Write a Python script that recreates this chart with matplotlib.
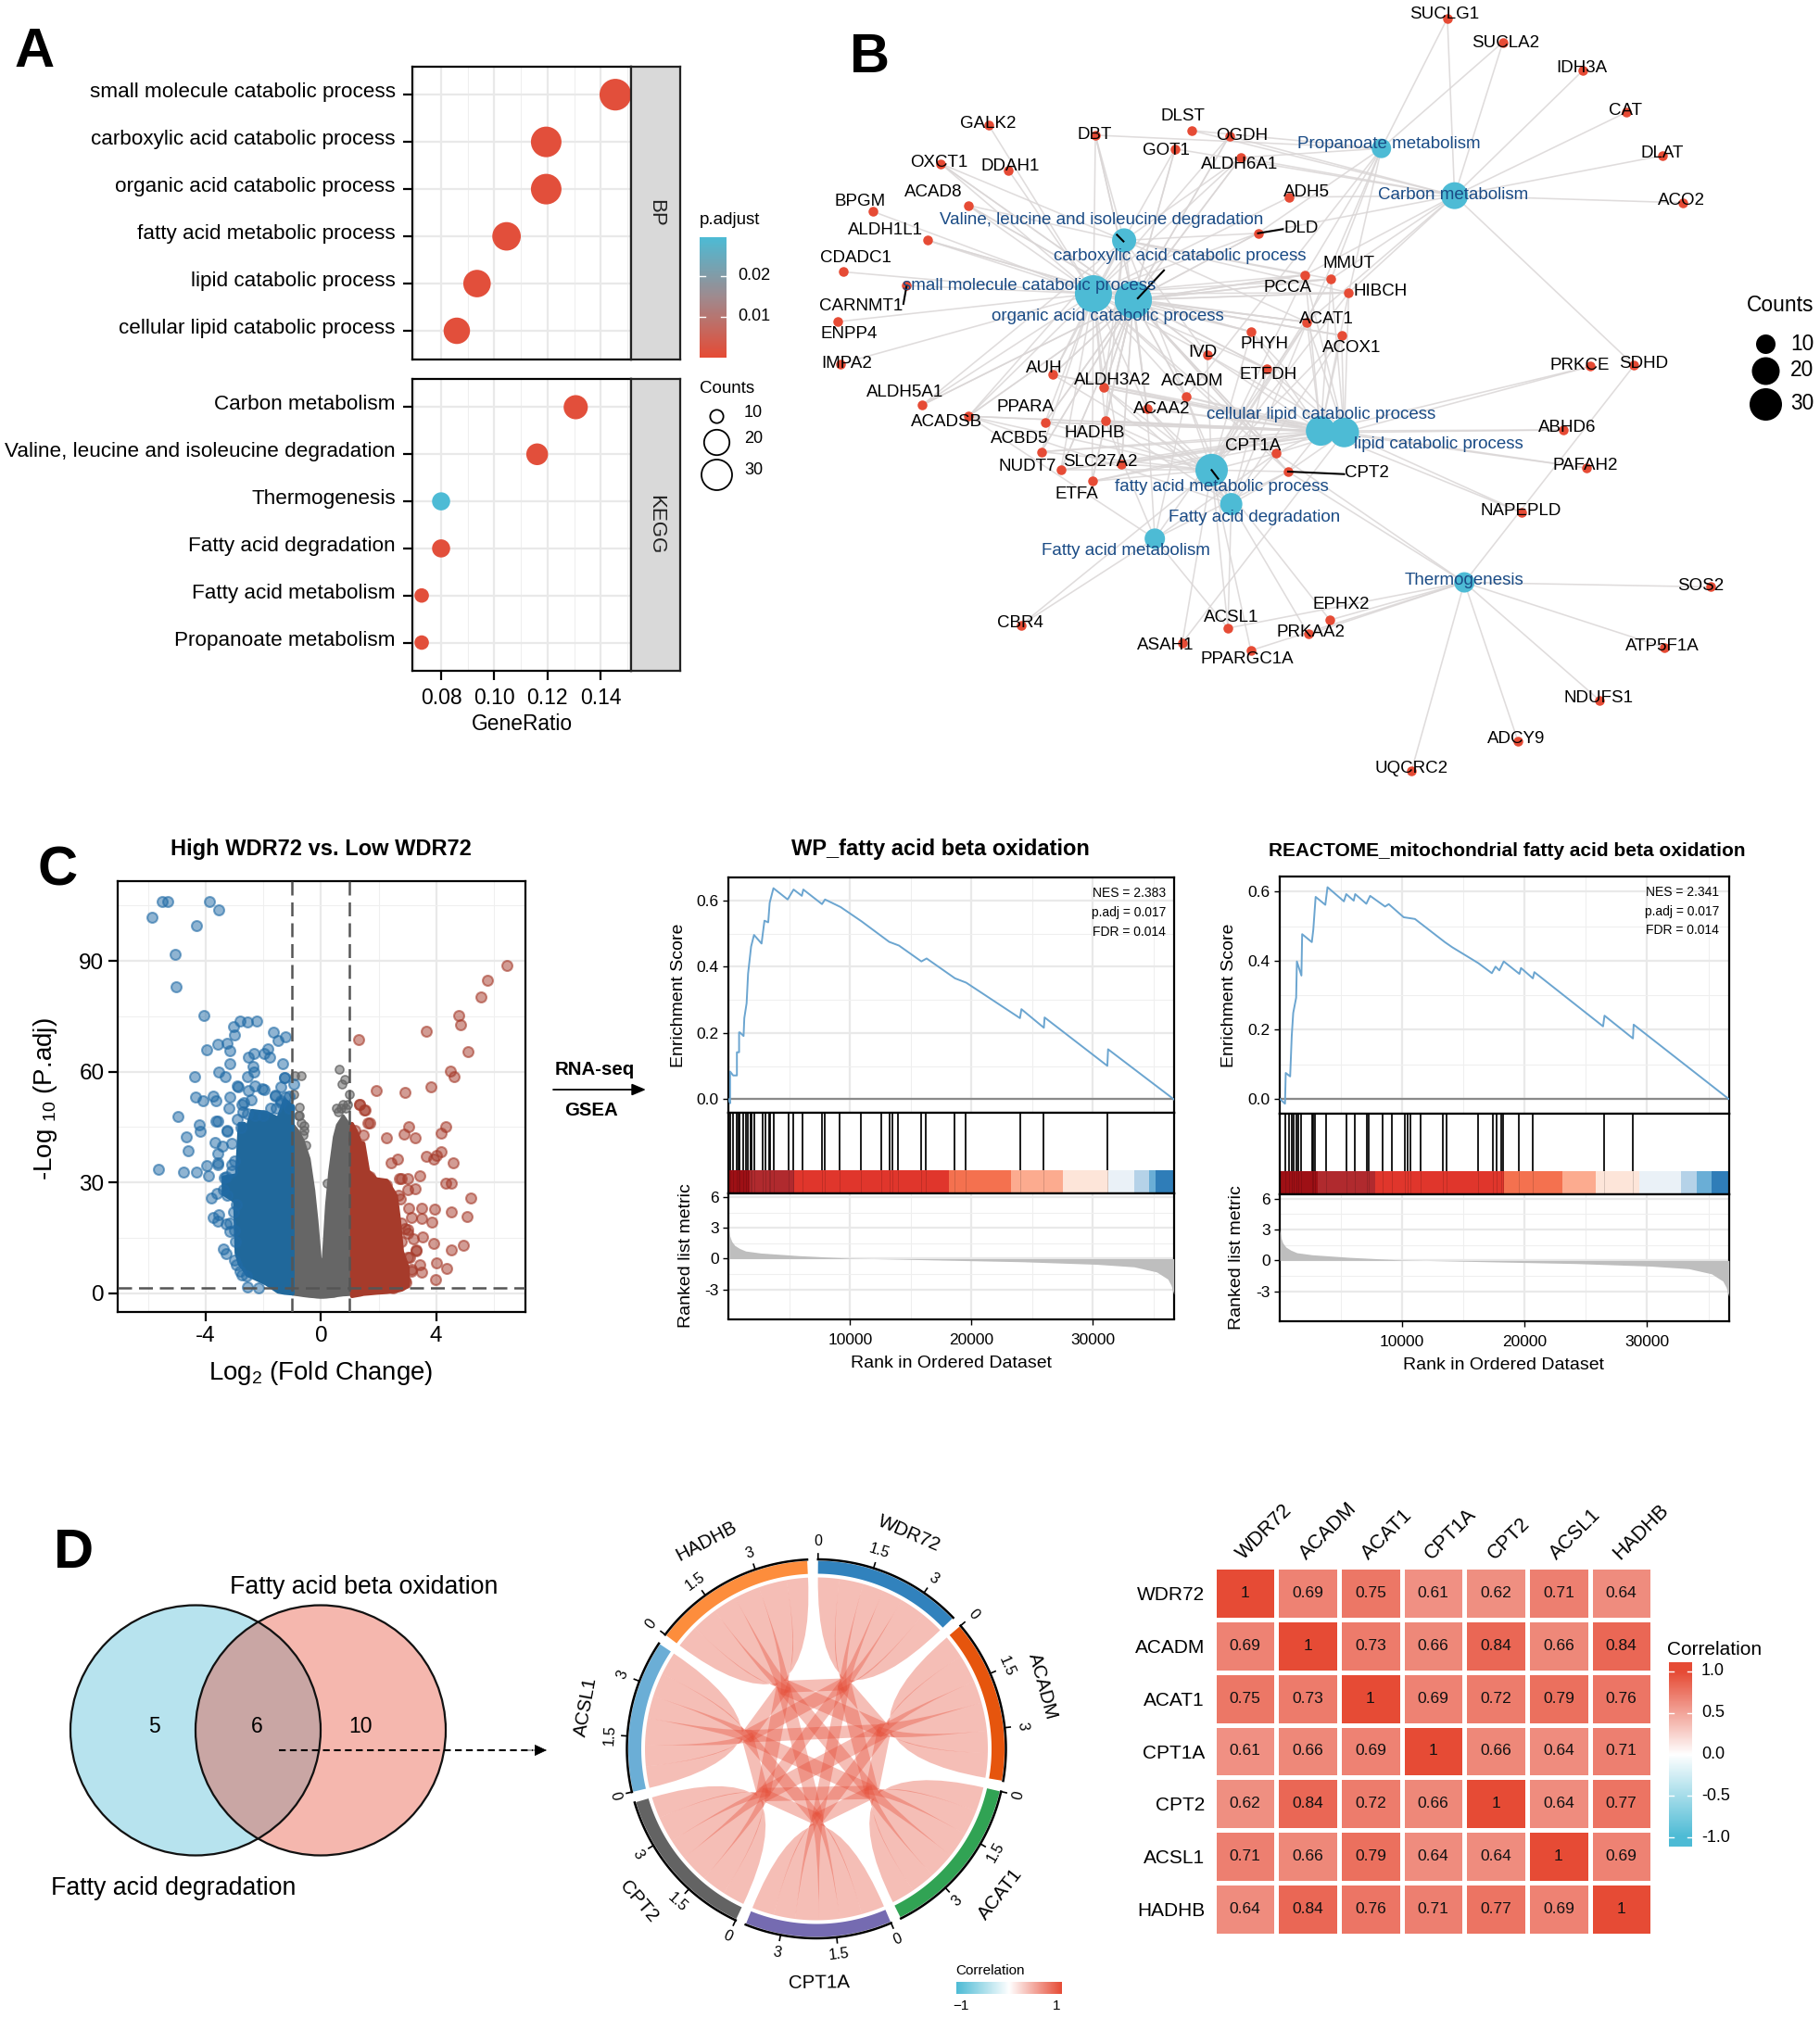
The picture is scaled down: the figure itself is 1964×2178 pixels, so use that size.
import numpy as np
import matplotlib
matplotlib.use("Agg")
import matplotlib.pyplot as plt
from matplotlib.colors import LinearSegmentedColormap, Normalize
from matplotlib.path import Path
from matplotlib.patches import PathPatch, Circle, Rectangle
from matplotlib.transforms import ScaledTranslation

plt.rcParams['font.family'] = ['Liberation Sans', 'DejaVu Sans']
plt.rcParams['mathtext.fontset'] = 'custom'
plt.rcParams['mathtext.rm'] = 'Liberation Sans'
plt.rcParams['mathtext.default'] = 'regular'
plt.rcParams['axes.unicode_minus'] = False

W, H = 1965, 2178
RED, BLUE = '#E64B35', '#4DBBD5'

# ---------- Panel A data ----------
bp_terms = ['small molecule catabolic process', 'carboxylic acid catabolic process', 'organic acid catabolic process',
            'fatty acid metabolic process', 'lipid catabolic process', 'cellular lipid catabolic process']
bp_ratio = [0.1455, 0.1195, 0.1195, 0.1046, 0.0935, 0.0859]
bp_count = [32, 30, 30, 26, 24, 22]
bp_padj = [0.001, 0.001, 0.001, 0.001, 0.001, 0.001]
kegg_terms = ['Carbon metabolism', 'Valine, leucine and isoleucine degradation', 'Thermogenesis',
              'Fatty acid degradation', 'Fatty acid metabolism', 'Propanoate metabolism']
kegg_ratio = [0.1306, 0.1161, 0.0800, 0.0800, 0.0727, 0.0727]
kegg_count = [19, 17, 14, 14, 11, 11]
kegg_padj = [0.001, 0.001, 0.0297, 0.001, 0.001, 0.001]
legend_counts = [10, 20, 30]

# ---------- Panel B data (layout coordinates) ----------
gene_names = ['SUCLG1','SUCLA2','IDH3A','CAT','DLAT','ACO2','GALK2','DLST','DBT','OGDH','GOT1','ALDH6A1','OXCT1','DDAH1',
    'ACAD8','ADH5','BPGM','ALDH1L1','DLD','CDADC1','PCCA','MMUT','HIBCH','CARNMT1','ENPP4','ACAT1','PHYH','ACOX1','IMPA2',
    'IVD','ETFDH','AUH','ALDH3A2','ACADM','ALDH5A1','ACAA2','PPARA','ACADSB','HADHB','ACBD5','CPT1A','SLC27A2','NUDT7',
    'CPT2','ETFA','PRKCE','SDHD','ABHD6','PAFAH2','NAPEPLD','SOS2','ATP5F1A','NDUFS1','ADCY9','UQCRC2','CBR4','ASAH1',
    'ACSL1','PPARGC1A','PRKAA2','EPHX2']
gene_x = [996,1081,1204,1270,1326,1356,294,605,457,662,579,680,220,324,262,754,116,200,706,71,778,818,845,168,62,781,696,834,66,
    628,720,392,470,596,192,536,380,263,472,374,734,497,404,752,452,1215,1282,1173,1209,1110,1399,1328,1229,1104,941,343,590,
    660,695,783,816]
gene_y = [36,83,138,221,306,399,247,257,266,268,293,310,322,335,404,388,416,473,459,535,541,549,576,562,633,634,653,660,716,
    698,726,737,763,781,797,804,831,819,828,889,892,913,925,928,947,721,719,846,921,1009,1155,1274,1378,1458,1517,1230,1265,
    1236,1280,1248,1220]
gene_lx = [991,1085,1202,1268,1325,1355,292,591,456,681,566,677,217,327,209,781,97,135,772,90,751,845,893,98,80,811,716,850,76,
    622,722,379,483,606,165,558,350,229,456,341,698,464,353,872,428,1198,1296,1180,1207,1108,1384,1325,1228,1102,941,342,564,
    665,690,787,834]
gene_ly = [26,81,131,214,298,391,241,225,262,264,294,320,317,324,375,376,393,450,446,504,563,516,571,600,655,626,675,681,712,
    691,734,722,746,748,770,802,798,827,849,860,875,905,915,928,969,717,712,838,914,1002,1150,1268,1371,1451,1509,1223,1267,
    1213,1295,1241,1187]

term_names = ['Propanoate metabolism','Carbon metabolism','Valine, leucine and isoleucine degradation',
    'carboxylic acid catabolic process','small molecule catabolic process','organic acid catabolic process',
    'cellular lipid catabolic process','lipid catabolic process','fatty acid metabolic process','Fatty acid degradation',
    'Fatty acid metabolism','Thermogenesis']
term_x = [895,1007,501,515,454,515,802,838,635,665,548,1022]
term_y = [292,385,473,590,578,590,848,851,925,992,1060,1146]
term_lx = [906,1005,467,587,355,476,802,982,650,700,504,1022]
term_ly = [281,381,430,501,559,619,812,871,955,1015,1081,1139]
term_d = [21,29,26,40,40,40,32,32,35,24,22,22]

catabolic = ['OXCT1','ACAD8','ALDH1L1','DBT','GOT1','ALDH6A1','DLD','PCCA','MMUT','HIBCH','ACAT1','ACOX1','PHYH','IVD','ETFDH',
    'AUH','ALDH3A2','ACADM','ALDH5A1','ACAA2','PPARA','ACADSB','HADHB','ACBD5','CPT1A','SLC27A2','NUDT7','CPT2','ETFA','OGDH']
lipid = ['ACAT1','ACOX1','PHYH','ETFDH','ALDH3A2','ACADM','ACAA2','PPARA','ACADSB','HADHB','ACBD5','CPT1A','CPT2','SLC27A2',
    'NUDT7','ETFA','AUH','MMUT','PCCA','HIBCH','IVD']
term_genes = {
 'Propanoate metabolism': ['SUCLG1','SUCLA2','DBT','DLST','ALDH6A1','DLD','ACAT1','ACADM','MMUT','PCCA','HIBCH'],
 'Carbon metabolism': ['SUCLG1','SUCLA2','IDH3A','CAT','DLAT','ACO2','SDHD','DLD','OGDH','DLST','GOT1','ALDH6A1','ADH5','MMUT','PCCA','ACAT1','HIBCH'],
 'Valine, leucine and isoleucine degradation': ['DBT','DLD','ALDH6A1','MMUT','PCCA','HIBCH','ACAT1','IVD','ACADM','ACADSB','AUH','ACAA2','HADHB','ACAD8','OXCT1','ALDH3A2','ALDH5A1'],
 'carboxylic acid catabolic process': catabolic,
 'small molecule catabolic process': catabolic + ['GALK2','DDAH1','BPGM','CDADC1','CARNMT1','ENPP4','IMPA2','ADH5'],
 'organic acid catabolic process': catabolic,
 'cellular lipid catabolic process': lipid + ['PRKCE','ABHD6','PAFAH2','NAPEPLD'],
 'lipid catabolic process': lipid + ['PRKCE','ABHD6','PAFAH2','NAPEPLD','ASAH1'],
 'fatty acid metabolic process': lipid + ['EPHX2','ACSL1','PRKAA2','CBR4','ASAH1','PPARGC1A'],
 'Fatty acid degradation': ['ACADM','ACAA2','ALDH3A2','HADHB','CPT1A','CPT2','ACSL1','ACADSB','ACAT1','ETFDH','ACOX1'],
 'Fatty acid metabolism': ['CBR4','ACSL1','ACADM','ACAA2','HADHB','CPT1A','CPT2','ACAT1','ACADSB'],
 'Thermogenesis': ['SOS2','ATP5F1A','NDUFS1','ADCY9','UQCRC2','SDHD','PRKAA2','ACSL1','PPARGC1A','CPT1A','CPT2','EPHX2'],
}
label_links = [((706,459),(744,451)), ((752,928),(838,933)), ((168,562),(163,598)), ((562,532),(522,587)),
               ((635,925),(645,942)), ((490,462),(500,475))]

# ---------- Panel C volcano data ----------
blue_x = [-5.88,-5.53,-5.31,-3.86,-3.54,-4.33,-5.06,-5.02,-4.07,-3.04,-2.81,-2.55,-2.24,-2.99,-1.64,-1.25,-1.5,-3.57,-3.25,-3.97,
    -3.18,-2.53,-2.32,-1.96,-1.84,-1.77,-3.15,-1.32,-2.36,-3.55,-4.39,-3.32,-2.56,-2.32,-1.27,-2.92,-2.29,-4.36,-4.09,-3.76,
    -3.64,-3.17,-2.53,-1.96,-1.38,-1.6,-3.21,-2.75,-4.98,-3.58,-4.22,-4.19,-3.27,-4.68,-3.68,-4.62,-3.58,-5.64,-4.79,-4.32,
    -3.97,-3.9,-3.58,-3.35,-3.8,-3.61,-3.73,-3.54,-3.58,-3.28,-3.18,-3.4,-3.31,-2.95,-2.6,-2.55,-2.17,
    -3.16,-2.95,-3.59,-3.43,-3.1,-3.27,-3.65,-3,-3.1,-3.3,-3.38,-3.27,-3.1,-2.78,-2.68,-2.89,-2.41,-2.03,-1.6,-1.28,-1.39,-1.12,-0.96,
    -2.9,-2.7,-2.55,-2.3,-2,-1.75,-1.55,-1.4,-1.25,-1.1,-3.05,-3.02,-2.98,-3.0,-2.8,-2.75]
blue_y = [101.7,106.1,106.1,106.1,103.9,99.5,91.8,83.1,75.1,72.3,73.6,73.4,73.8,69.9,70.8,69.5,68.4,67.5,67.7,66,
    65.6,64,64.9,64.9,66.3,63.9,62.2,62.2,61.3,59.8,58.6,58.6,58.6,59.8,58.3,56.2,56.2,53,52.1,53.4,
    52.1,53.1,54.8,55.2,55.9,53.6,50,51,47.9,46.6,45.7,43.9,43.9,42.4,40.8,38.5,37.7,33.5,32.9,32.9,
    34.5,31.9,35.2,31.4,25.8,27,20.6,21.3,19.6,18.8,16.7,11.9,10.6,7.7,4.7,1.6,1.3,
    18.9,24,34.8,39.9,40.7,44,46.6,35.7,34.8,31.5,28,26.5,33,44.9,51.6,55.8,52.4,55.4,53.3,58.3,51.6,53.3,56.6,
    47,49,48.5,48,48,50,50,52,53,50,22,17,14,9,6,5]
red_x = [6.45,5.78,5.55,4.78,4.86,3.65,1.32,5.12,4.5,4.62,3.83,1.91,2.92,1.35,1.5,1.64,3.04,4.33,2.89,4.16,3.27,2.26,3.65,4.16,4.01,
    3.91,4.6,2.65,2.43,3.44,2.72,3,4.33,4.52,3.27,3,5.21,2.75,3.04,3.51,3.94,4.52,5.06,3.15,3.48,3.86,2.91,3,3.54,3.19,3.91,
    4.94,4.52,3.29,3.08,4,4.37,3.42,3.51,3.15,3.97,2.5,2.96,
    1.35,1.52,1.68,1.19,1.46,1.25,1.14,1.68,2.27,2.8,2.7,2.38,2.8,3.02,2.8,3.02,3.29,3.13,2.91,2.7]
red_y = [88.7,84.7,80.2,75.1,72.8,71,68.8,65.5,60.1,58.6,56,55,54.5,51,49.5,46.2,45.2,45.2,43.2,43.3,42.2,42.1,37.1,38.2,37.4,
    36.3,35.4,36.2,35.4,31.9,31,31,29.8,29.7,28.3,28,25.8,25.4,22.9,22.9,22.7,22,20.8,20.6,20.3,19.2,17.4,16.2,15.2,14.7,13.4,
    13,11.6,11.6,9.7,8.1,6.8,7.7,5.6,5.9,3.6,1.5,2.9,
    51.2,49.5,46.1,44,42.8,39,41.5,31.5,29.4,31,26.5,24,19,17.3,13.9,9.7,11.4,6.4,3.4,4.7]
grey_x = [-0.9,-0.69,-0.96,-0.74,-0.74,-0.58,-0.63,0.98,0.62,0.82,0.73,0.53,0.76,0.92,0.2,-0.8,-0.7,0.6,0.7,0.85,-0.6,-0.52]
grey_y = [59,59,54,50.3,48.2,45.3,42.8,54,60.6,57.9,56.6,50,51.2,51.2,29.8,48,46,49,50,50,44,40]

blue_env_x = [-3.4,-3.0,-2.95,-2.84,-2.68,-2.57,-2.41,-1.92,-1.5,-1.28,-1.0]
blue_env_hi = [31.5,32,30,46,46,45,49.5,49,47.4,52.4,50.8]
blue_env_lo = [27,25,11,8,6.4,5,4.5,2.7,0.5,0.2,0]
grey_env_x = [-1,-0.8,-0.63,-0.42,-0.26,-0.15,-0.04,0,0.06,0.17,0.28,0.44,0.55,0.76,0.98,1.06]
grey_env_hi = [46,44,41.5,36.5,28,19.8,9.7,8,9.7,24,33,42.4,45.7,48.2,45.7,44]
grey_env_lo = [-0.2,-0.4,-0.6,-0.8,-0.9,-1,-1.05,-1.05,-1.05,-1,-0.9,-0.8,-0.6,-0.4,-0.3,-0.2]
red_env_x = [1.06,1.2,1.35,1.46,1.62,1.9,2.27,2.59,2.7,2.8,3.0]
red_env_hi = [46,44,41,40.7,33.2,31,30.6,26.5,19.8,11.4,7]
red_env_lo = [-0.7,-0.5,-0.3,-0.1,0,0.2,0.4,0.7,0.9,1.1,2.0]

# ---------- Panel C GSEA data ----------
es1_rank = [0,120,120,370,680,680,860,860,920,1230,1290,1480,1600,1850,2090,2710,2710,2950,3260,3380,3690,4860,4860,5350,6030,6030,
    6150,7690,7690,7940,9230,10950,13230,14030,15880,15880,16310,18650,19570,19570,24000,24000,24120,25970,25970,26030,31200,31200,31260,36680]
es1_val = [0,-0.012,0.084,0.072,0.072,0.142,0.142,0.202,0.202,0.191,0.245,0.29,0.379,0.461,0.496,0.47,0.47,0.539,0.534,0.593,0.637,0.603,0.603,0.633,0.614,0.614,
    0.633,0.589,0.589,0.603,0.58,0.537,0.475,0.464,0.416,0.416,0.425,0.365,0.352,0.352,0.245,0.245,0.272,0.216,0.216,0.247,0.101,0.101,0.151,0]
es2_rank = [0,430,490,850,980,1100,1340,1400,1770,1830,2620,2740,2930,3720,3900,5240,5430,6040,6160,7070,7380,8600,8900,10120,11040,13480,14090,
    16220,17320,17620,17930,18290,19570,19700,20670,20790,26400,26520,28840,28900,36650]
es2_val = [0,-0.014,0.075,0.065,0.183,0.249,0.293,0.398,0.357,0.477,0.454,0.49,0.585,0.562,0.613,0.572,0.593,0.574,0.593,0.565,0.588,0.557,0.564,0.526,0.521,0.454,0.439,
    0.393,0.364,0.383,0.372,0.398,0.362,0.379,0.349,0.367,0.21,0.241,0.175,0.215,0]
hits1 = [120,370,680,800,920,1230,1420,1600,1780,1910,2090,2770,3020,3320,3450,3690,4920,5350,6090,7690,7940,9110,10890,12550,13290,13480,13970,15880,16250,18580,19510,24000,25970,31200]
hits2 = [430,790,980,1160,1340,1520,1770,2620,2740,2870,3780,5430,6100,7130,7260,8410,9150,10240,10430,10670,11520,13350,13600,16220,17380,17680,18050,18230,19510,20670,26460,28840]
metric_rank = [0,100,250,500,900,1400,2650,5700,10000,11900,18000,24200,30300,33400,35260,36180,36450,36680]
metric_val = [3.0,2.2,1.7,1.3,1.0,0.75,0.55,0.3,0.04,0.0,-0.15,-0.3,-0.55,-0.8,-1.3,-2.0,-2.6,-3.5]
strip1_edges = [0,1720,5415,18150,23260,27570,31260,33400,34650,35140,36680]
strip2_edges = [0,3100,7800,18350,23050,25790,29330,32800,34020,35300,36650]
strip_colors = ['#9E1015','#B02A2E','#E0362C','#F4714F','#FCAB8F','#FDE5D9','#EAF1F7','#B5D2E8','#6AAED6','#2F7DB8']

# ---------- Panel D data ----------
genes = ['WDR72','ACADM','ACAT1','CPT1A','CPT2','ACSL1','HADHB']
corr = np.array([[1,.69,.75,.61,.62,.71,.64],
                 [.69,1,.73,.66,.84,.66,.84],
                 [.75,.73,1,.69,.72,.79,.76],
                 [.61,.66,.69,1,.66,.64,.71],
                 [.62,.84,.72,.66,1,.64,.77],
                 [.71,.66,.79,.64,.64,1,.69],
                 [.64,.84,.76,.71,.77,.69,1]])
ring_colors = ['#3182BD','#E6550D','#31A354','#756BB1','#636363','#6BAED6','#FD8D3C']
venn_counts = ['5', '6', '10']

# ---------- helpers ----------
fig = plt.figure(figsize=(W/100, H/100), dpi=100, facecolor='white')
def pax(x0, y0, x1, y1, **kw):
    return fig.add_axes([x0/W, 1-y1/H, (x1-x0)/W, (y1-y0)/H], **kw)
def pts(px):
    return px*0.72

ov = pax(0, 0, W, H)
ov.set_xlim(0, W); ov.set_ylim(H, 0); ov.axis('off'); ov.set_zorder(20); ov.patch.set_alpha(0)
def T(x, y, s, size, **kw):
    kw.setdefault('ha', 'center'); kw.setdefault('va', 'center')
    return ov.text(x, y+2, s, fontsize=size, **kw)

for (x, y, s) in [(37, 54, 'A'), (939, 60, 'B'), (62, 938, 'C'), (80, 1674, 'D')]:
    T(x, y, s, 43, fontweight='bold')

GMAJ, GMIN = '#E9E9E9', '#EFEFEF'
def style_grid(ax, xmaj=True):
    ax.set_axisbelow(True)
    ax.grid(True, which='major', color=GMAJ, lw=1.6)
    ax.grid(True, which='minor', color=GMIN, lw=0.8)
    ax.tick_params(which='minor', length=0)
    for s in ax.spines.values():
        s.set_linewidth(1.6)

# ---------- Panel A ----------
pad_norm = Normalize(0, 0.0297)
pad_cmap = LinearSegmentedColormap.from_list('pad', [RED, '#A08A8E', BLUE])
def count_d(c):
    return np.interp(c, [10, 20, 30, 35], [14.3, 27.4, 33, 36])
for (y0, y1, terms, ratio, count, padj, strip, xl) in [
        (71.6, 387.6, bp_terms, bp_ratio, bp_count, bp_padj, 'BP', False),
        (409, 724, kegg_terms, kegg_ratio, kegg_count, kegg_padj, 'KEGG', True)]:
    ax = pax(445, y0, 681, y1)
    ax.set_xlim(0.0692, 0.1514); ax.set_ylim(5.6, -0.6)
    ax.set_xticks([0.08, 0.10, 0.12, 0.14])
    ax.set_xticks([0.07, 0.09, 0.11, 0.13, 0.15], minor=True)
    ax.set_yticks(range(6)); ax.set_yticklabels(terms, fontsize=16.2)
    style_grid(ax)
    ax.tick_params(axis='y', which='major', length=7, width=1.6, pad=6)
    ax.tick_params(axis='x', which='major', length=7 if xl else 0, width=1.6, labelsize=16.5, pad=6, labelbottom=xl)
    up = ScaledTranslation(0, 5/100, fig.dpi_scale_trans)
    for lab in ax.get_yticklabels():
        lab.set_transform(lab.get_transform() + up)
    ax.scatter(ratio, range(6), s=pts(count_d(np.array(count)))**2, c=pad_cmap(pad_norm(padj)), linewidths=0, zorder=3, clip_on=False)
    st = pax(681, y0, 734, y1)
    st.set_facecolor('#D9D9D9'); st.set_xticks([]); st.set_yticks([])
    for s in st.spines.values():
        s.set_linewidth(1.6); s.set_color('#222222')
    st.text(0.5, 0.5, strip, rotation=-90, fontsize=16, ha='center', va='center', transform=st.transAxes, color='#222222')
    if xl:
        T(563, 780, 'GeneRatio', 16.4)

cb = pax(755, 256, 784, 386)
cb.imshow(np.linspace(0.0297, 0, 256)[:, None], aspect='auto', cmap=pad_cmap, norm=pad_norm, extent=[0, 1, 0, 0.0297])
cb.axis('off')
for v in [0.01, 0.02]:
    cb.plot([0, 0.2], [v, v], color='white', lw=1); cb.plot([0.8, 1], [v, v], color='white', lw=1)
cb.set_xlim(0, 1); cb.set_ylim(0, 0.0297)
T(755, 236, 'p.adjust', 13.5, ha='left')
T(796.5, 296, '0.02', 13, ha='left'); T(796.5, 340, '0.01', 13, ha='left')
T(755, 417, 'Counts', 13.5, ha='left')
for c, y in zip(legend_counts, [449, 477, 511.5]):
    ov.scatter([773.5], [y], s=pts(count_d(c))**2, facecolors='white', edgecolors='black', linewidths=1.3, zorder=3)
    T(803, y-6, str(c), 13, ha='left')

# ---------- Panel B ----------
nb = pax(860, 0, W, 860)
nb.set_xlim(0, 1568); nb.set_ylim(1568, 0); nb.axis('off')
gx = dict(zip(gene_names, gene_x)); gy = dict(zip(gene_names, gene_y))
for tn, tx, ty in zip(term_names, term_x, term_y):
    for g in term_genes[tn]:
        if g in gx:
            nb.plot([tx, gx[g]], [ty, gy[g]], color='#DAD6D6', lw=1.15, alpha=0.85, zorder=1, solid_capstyle='round')
nb.scatter(gene_x, gene_y, s=pts(10.5)**2, color=RED, linewidths=0, zorder=3)
nb.scatter(term_x, term_y, s=pts(np.array(term_d))**2, color=BLUE, linewidths=0, zorder=3)
for (a, b) in label_links:
    nb.plot([a[0], b[0]], [a[1], b[1]], color='black', lw=1.5, zorder=4)
for n_, x, y in zip(gene_names, gene_lx, gene_ly):
    nb.text(x, y+3, n_, fontsize=13.5, ha='center', va='center', zorder=5, color='black')
for n_, x, y in zip(term_names, term_lx, term_ly):
    nb.text(x, y+3, n_, fontsize=13.5, ha='center', va='center', zorder=5, color='#1A4B85')
T(1921, 327, 'Counts', 16.4)
for c, y, d in zip(legend_counts, [371, 400, 436], [21, 30, 35]):
    ov.scatter([1905], [y], s=pts(d)**2, color='black', linewidths=0)
    T(1932, y-2, str(c), 16.4, ha='left')

# ---------- Panel C volcano ----------
ax = pax(127, 951.4, 567, 1416)
ax.set_xlim(-7.06, 7.1); ax.set_ylim(-5.1, 111.5)
ax.set_xticks([-4, 0, 4]); ax.set_xticks([-6, -2, 2, 6], minor=True)
ax.set_yticks([0, 30, 60, 90]); ax.set_yticks([15, 45, 75, 105], minor=True)
style_grid(ax)
ax.tick_params(which='major', length=7, width=1.6, labelsize=17.5)
ax.fill_between(grey_env_x, grey_env_lo, grey_env_hi, color='#666666', lw=2, zorder=2)
ax.fill_between(blue_env_x, blue_env_lo, blue_env_hi, color='#20689B', lw=3, zorder=2.2)
ax.fill_between(red_env_x, red_env_lo, red_env_hi, color='#A63B2B', lw=3, zorder=2.2)
ax.scatter(grey_x, grey_y, s=42, facecolor=(0.4, 0.4, 0.4, 0.55), edgecolor=(0.4, 0.4, 0.4, 0.8), lw=1.2, zorder=2.1)
ax.scatter(blue_x, blue_y, s=62, facecolor=(0.13, 0.42, 0.65, 0.5), edgecolor=(0.13, 0.42, 0.65, 0.6), lw=1.5, zorder=2.3)
ax.scatter(red_x, red_y, s=62, facecolor=(0.65, 0.23, 0.17, 0.5), edgecolor=(0.65, 0.23, 0.17, 0.6), lw=1.5, zorder=2.3)
dash = (0, (6, 3))
for xv in [-1, 1]:
    ax.axvline(xv, color='#555555', lw=1.8, ls=dash, zorder=3)
ax.axhline(1.3, color='#555555', lw=1.8, ls=dash, zorder=3)
T(346.4, 915, 'High WDR72 vs. Low WDR72', 17, fontweight='bold')
T(346, 1480, r'Log$_{2}$ (Fold Change)', 19.9)
T(49, 1184, r'-Log $_{10}$ (P.adj)', 20, rotation=90)
ov.annotate('', xy=(697, 1176), xytext=(597, 1176), arrowprops=dict(arrowstyle='-|>,head_length=0.9,head_width=0.38', color='black', lw=1.3, shrinkA=0, shrinkB=0))
T(642, 1152, 'RNA-seq', 14.7, fontweight='bold')
T(638, 1196, 'GSEA', 14.7, fontweight='bold')

# ---------- Panel C GSEA ----------
def gsea(x0, x1, y0, y1, y2, y3, xmax, es_r, es_v, hits, edges, top_lim, bot_lim):
    a = pax(x0, y0, x1, y1)
    a.set_xlim(0, xmax); a.set_ylim(*top_lim)
    a.set_xticks([10000, 20000, 30000]); a.set_xticks([5000, 15000, 25000, 35000], minor=True)
    a.set_yticks([0, 0.2, 0.4, 0.6]); a.set_yticks([0.1, 0.3, 0.5], minor=True)
    style_grid(a)
    a.tick_params(axis='x', which='major', length=0, labelbottom=False)
    a.tick_params(axis='y', which='major', length=4, width=1, labelsize=12.5)
    a.axhline(0, color='#8A8A8A', lw=1.6, zorder=2)
    a.plot(es_r, es_v, color='#6BA5D0', lw=1.4, zorder=3)
    m = pax(x0, y1, x1, y2)
    m.set_xlim(0, xmax); m.set_ylim(0, 1); m.set_xticks([]); m.set_yticks([])
    for s in m.spines.values():
        s.set_linewidth(1.6)
    for k in range(len(edges)-1):
        m.add_patch(Rectangle((edges[k], 0), edges[k+1]-edges[k], 0.29, color=strip_colors[k], lw=0, zorder=1))
    m.vlines(hits, 0.29, 1, color='black', lw=1.25, zorder=2)
    m.vlines(hits, 0, 0.29, color='black', lw=0.4, alpha=0.25, zorder=2)
    b = pax(x0, y2, x1, y3)
    b.set_xlim(0, xmax); b.set_ylim(*bot_lim)
    b.set_xticks([10000, 20000, 30000]); b.set_xticks([5000, 15000, 25000, 35000], minor=True)
    b.set_yticks([-3, 0, 3, 6]); b.set_yticks([-1.5, 1.5, 4.5], minor=True)
    style_grid(b)
    b.tick_params(which='major', length=4, width=1, labelsize=12.5)
    b.tick_params(axis='x', which='major', pad=7)
    b.fill_between(metric_rank, 0, metric_val, color='#BEBEBE', lw=0, zorder=3)

gsea(786.3, 1267, 947, 1201, 1287.7, 1423.5, 36700, es1_rank, es1_val, hits1, strip1_edges, (-0.0406, 0.6695), (-5.9, 6.42))
gsea(1381, 1866, 946, 1202, 1289, 1426, 36700, es2_rank, es2_val, hits2, strip2_edges, (-0.043, 0.644), (-5.9, 6.42))

T(1015, 915, 'WP_fatty acid beta oxidation', 17, fontweight='bold')
T(1626, 917, 'REACTOME_mitochondrial fatty acid beta oxidation', 15, fontweight='bold')
for x, y, s in zip([1258]*3, [962, 983, 1003.6], ['NES = 2.383', 'p.adj = 0.017', 'FDR = 0.014']):
    T(x, y, s, 10, ha='right')
for x, y, s in zip([1855]*3, [961, 982, 1002.5], ['NES = 2.341', 'p.adj = 0.017', 'FDR = 0.014']):
    T(x, y, s, 10, ha='right')
T(733, 1072, 'Enrichment Score', 14, rotation=90); T(1327, 1072, 'Enrichment Score', 14, rotation=90)
T(741, 1353, 'Ranked list metric', 14, rotation=90); T(1335, 1355, 'Ranked list metric', 14, rotation=90)
T(1027, 1469.5, 'Rank in Ordered Dataset', 14); T(1623, 1472, 'Rank in Ordered Dataset', 14)

# ---------- Panel D Venn ----------
vn = pax(40, 1630, 620, 2070)
vn.set_xlim(40, 620); vn.set_ylim(2070, 1630); vn.axis('off')
for cx, col in [(211, BLUE), (346, RED)]:
    vn.add_patch(Circle((cx, 1867.5), 135, facecolor=col, alpha=0.4, lw=0, zorder=1))
for cx in [211, 346]:
    vn.add_patch(Circle((cx, 1867.5), 135, fill=False, edgecolor='#111111', lw=1.6, zorder=2))
for x, s in zip([166.5, 277.5, 389], venn_counts):
    T(x, 1861, s, 16.5)
T(393, 1711, 'Fatty acid beta oxidation', 19.3)
T(187, 2036, 'Fatty acid degradation', 19.3)
ov.plot([301, 575], [1889, 1889], color='black', lw=1.5, ls=(0, (3.5, 2.2)))
ov.annotate('', xy=(590, 1889), xytext=(570, 1889), arrowprops=dict(arrowstyle='-|>,head_length=0.85,head_width=0.4', color='black', lw=0.5, shrinkA=0, shrinkB=0))

# ---------- Panel D chord ----------
CX, CY, HS = 881, 1887.5, 285
ch = pax(CX-HS, CY-HS, CX+HS, CY+HS)
ch.set_xlim(-HS, HS); ch.set_ylim(-HS, HS); ch.axis('off')
n = len(genes)
off = corr - np.eye(n)
totals = off.sum(axis=1)
gap = 3.3
scale = (360 - n*gap)/totals.sum()
starts = []
ang = 89.5
for i in range(n):
    starts.append(ang)
    ang -= totals[i]*scale + gap
def pol(r, a):
    t = np.radians(a)
    return np.array([r*np.cos(t), r*np.sin(t)])
RL, R0, R1, RA = 185, 189, 203, 204.5
segs = {}
for i in range(n):
    a = starts[i]
    for o in range(n-1, 0, -1):
        j = (i+o) % n
        w = corr[i, j]*scale
        segs[(i, j)] = (a, a-w)
        a -= w
def arc(r, a0, a1, k=24):
    return [pol(r, t) for t in np.linspace(a0, a1, k)]
PF = 0.41
CF = 0.55
for i in range(n):
    for j in range(i+1, n):
        a1, a2 = segs[(i, j)]; b1, b2 = segs[(j, i)]
        ci = starts[i] - totals[i]*scale/2; cj = starts[j] - totals[j]*scale/2
        Pi, Pj = pol(RL*PF, ci), pol(RL*PF, cj)
        d = (Pj-Pi)/np.linalg.norm(Pj-Pi)
        nv = np.array([-d[1], d[0]])
        w = 20*corr[i, j]/2
        A = arc(RL, a1, a2); B = arc(RL, b1, b2)
        V = [A[0]] + A[1:]
        C = [Path.MOVETO] + [Path.LINETO]*(len(A)-1)
        V += [A[-1]*CF, Pi+nv*w, (Pi+Pj)/2+nv*w, Pj+nv*w, B[0]*CF, B[0]]
        C += [Path.CURVE3]*6
        V += B[1:]; C += [Path.LINETO]*(len(B)-1)
        V += [B[-1]*CF, Pj-nv*w, (Pi+Pj)/2-nv*w, Pi-nv*w, A[0]*CF, A[0], A[0]]
        C += [Path.CURVE3]*6 + [Path.CLOSEPOLY]
        ch.add_patch(PathPatch(Path(np.array(V), C), facecolor=RED, alpha=0.36, lw=0, zorder=1))
for i in range(n):
    a0 = starts[i]; a1 = a0 - totals[i]*scale
    ring = arc(R1, a0, a1, 60) + arc(R0, a1, a0, 60)
    ch.add_patch(plt.Polygon(ring, closed=True, facecolor=ring_colors[i], lw=0, zorder=2))
    xy = np.array(arc(RA, a0, a1, 60))
    ch.plot(xy[:, 0], xy[:, 1], color='black', lw=1.8, zorder=3)
    for v, lab in [(0, '0'), (1.5, '1.5'), (3, '3')]:
        t = a0 - v*scale
        p0, p1 = pol(RA, t), pol(RA+6, t)
        ch.plot([p0[0], p1[0]], [p0[1], p1[1]], color='black', lw=1.2, zorder=3)
        q = pol(RA+19, t)
        rot = t-90 if np.sin(np.radians(t)) >= 0 else t+90
        ch.text(q[0], q[1], lab, fontsize=11.5, ha='center', va='center', rotation=rot, rotation_mode='anchor')
    c = (a0+a1)/2
    q = pol(253, c)
    rot = c-90 if np.sin(np.radians(c)) >= 0 else c+90
    ch.text(q[0], q[1], genes[i], fontsize=14.8, ha='center', va='center', rotation=rot, rotation_mode='anchor')

corr_cmap = LinearSegmentedColormap.from_list('corr', [BLUE, 'white', RED])
cb = pax(1031.7, 2139, 1145, 2151.7)
cb.imshow(np.linspace(-1, 1, 256)[None, :], aspect='auto', cmap=corr_cmap, vmin=-1, vmax=1)
cb.axis('off')
T(1069, 2125, 'Correlation', 11)
T(1037, 2163, '\u22121', 11); T(1140, 2163, '1', 11)

# ---------- Panel D heatmap ----------
hm = pax(1309.8, 1691, 1783.4, 2089)
hm.pcolormesh(np.arange(n+1), np.arange(n+1), corr, cmap=corr_cmap, vmin=-1, vmax=1, edgecolors='white', linewidth=2.2)
hm.set_xlim(0, n); hm.set_ylim(n, 0)
hm.set_xticks([]); hm.set_yticks(np.arange(n)+0.5); hm.set_yticklabels(genes, fontsize=15)
hm.tick_params(axis='y', length=0, pad=7)
for s in hm.spines.values():
    s.set_visible(False)
for i in range(n):
    for j in range(n):
        lab = '1' if corr[i, j] == 1 else f'{corr[i, j]:.2f}'
        hm.text(j+0.5, i+0.5, lab, ha='center', va='center', fontsize=12.5, color='#111111')
cw = (1783.4-1309.8)/n
for j in range(n):
    ov.text(1309.8+cw*(j+0.5)+2, 1688, genes[j], rotation=45, rotation_mode='anchor', ha='left', va='bottom', fontsize=15.5)
cb = pax(1801.5, 1794, 1826, 1993)
vals = np.linspace(1.11, -1.11, 256)
cb.imshow(vals[:, None], aspect='auto', cmap=corr_cmap, vmin=-1, vmax=1, extent=[0, 1, -1.11, 1.11])
cb.axis('off')
for v, s in zip([1, 0.5, 0, -0.5, -1], ['1.0', '0.5', '0.0', '-0.5', '-1.0']):
    cb.plot([0, 0.2], [v, v], color='white', lw=1); cb.plot([0.8, 1], [v, v], color='white', lw=1)
    T(1836, 1891.5 - v*90.5, s, 13, ha='left')
cb.set_xlim(0, 1); cb.set_ylim(-1.11, 1.11)
T(1850, 1778, 'Correlation', 15)

fig.savefig('out.png', dpi=100, facecolor='white')
